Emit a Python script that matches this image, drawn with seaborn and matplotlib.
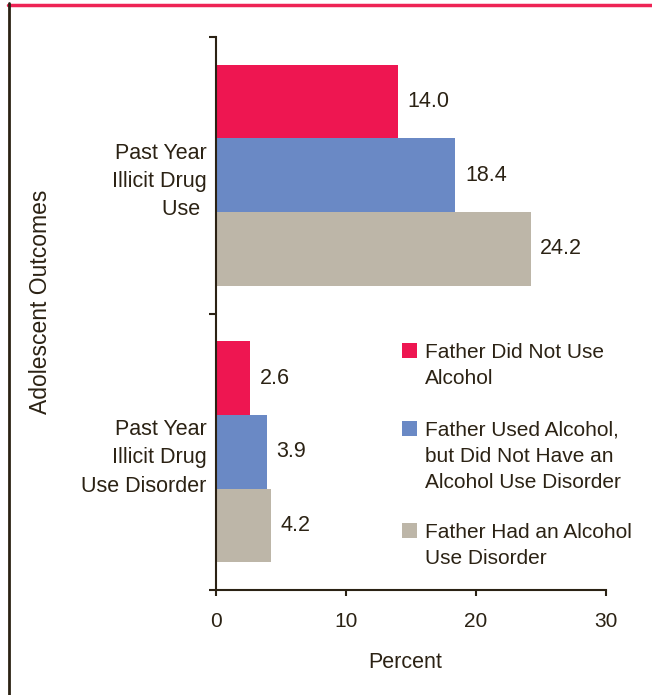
import pandas as pd
import seaborn as sns
from matplotlib import pyplot as plt
from matplotlib.lines import Line2D
from matplotlib.patches import Rectangle

# values
outcomes = ['Past Year\nIllicit Drug\nUse ', 'Past Year\nIllicit Drug\nUse Disorder']
fathers = ['Father Did Not Use\nAlcohol',
           'Father Used Alcohol,\nbut Did Not Have an\nAlcohol Use Disorder',
           'Father Had an Alcohol\nUse Disorder']
drug_use = [14.0, 18.4, 24.2]
drug_disorder = [2.6, 3.9, 4.2]
x_ticks = [0, 10, 20, 30]

colors = ['#EE1651', '#6A89C5', '#BDB6A8']
text_color = '#2B2214'

W, H = 652, 695

sns.set_style('white')
plt.rcParams['font.family'] = ['Liberation Sans', 'DejaVu Sans']
plt.rcParams['text.color'] = text_color
plt.rcParams['axes.labelcolor'] = text_color
plt.rcParams['xtick.color'] = text_color
plt.rcParams['ytick.color'] = text_color


def build_frame():
    rows = []
    for father, v1, v2 in zip(fathers, drug_use, drug_disorder):
        rows.append({'outcome': outcomes[0], 'father': father, 'percent': v1})
        rows.append({'outcome': outcomes[1], 'father': father, 'percent': v2})
    return pd.DataFrame(rows)


def fx(px):
    return px / W


def fy(py):
    return 1 - py / H


def outcome_barplot(data):
    fig = plt.figure(figsize=(W / 100, H / 100), dpi=100)
    ax = fig.add_axes([fx(216), fy(590), fx(606) - fx(216), fy(37) - fy(590)])

    sns.barplot(ax=ax, data=data, y='outcome', x='percent', hue='father',
                order=outcomes, hue_order=fathers, palette=colors,
                orient='h', saturation=1, width=0.8, linewidth=0, legend=False)

    # value labels
    for cont in ax.containers:
        ax.bar_label(cont, fmt='%.1f', padding=7, fontsize=15.5, color=text_color)

    ax.set_xlim(0, 30)
    ax.set_ylim(1.5, -0.5)
    ax.set_xticks(x_ticks)
    ax.set_xticklabels([str(t) for t in x_ticks], fontsize=15)
    ax.tick_params(axis='x', bottom=True, direction='out', length=4, width=1.5, pad=12)

    ax.set_yticks([0, 1])
    ax.set_yticklabels(outcomes, fontsize=15.5)
    for t in ax.get_yticklabels():
        t.set_linespacing(1.45)
    ax.set_yticks([-0.5, 0.5, 1.5], minor=True)
    ax.tick_params(axis='y', which='major', left=True, length=0, pad=7)
    ax.tick_params(axis='y', which='minor', left=True, direction='out', length=5, width=1.5)

    sns.despine(ax=ax)
    for side in ['left', 'bottom']:
        ax.spines[side].set_color(text_color)
        ax.spines[side].set_linewidth(1.5)

    ax.set_xlabel('Percent', fontsize=15.5)
    ax.xaxis.set_label_coords(0.485, -0.112)
    ax.set_ylabel('Adolescent Outcomes', fontsize=16.5)
    ax.yaxis.set_label_coords(-0.42, 0.521)

    # legend, square aligned with the first text line
    legend_tops = [343, 421, 523]
    for label, color, top in zip(fathers, colors, legend_tops):
        fig.add_artist(Rectangle((fx(402), fy(top + 15)), 15 / W, 15 / H,
                                 transform=fig.transFigure, facecolor=color,
                                 edgecolor='none'))
        fig.text(fx(425), fy(top), label, fontsize=15, va='top', ha='left',
                 linespacing=1.45, color=text_color)

    # page frame: red rule on top, dark rule on the left
    fig.add_artist(Line2D([fx(8), 1], [fy(5), fy(5)],
                          transform=fig.transFigure, color='#EE2455', linewidth=2.5))
    fig.add_artist(Line2D([fx(9), fx(9)], [0, fy(3)],
                          transform=fig.transFigure, color=text_color, linewidth=2))

    fig.savefig('out.png', dpi=100)


if __name__ == '__main__':
    data = build_frame()
    outcome_barplot(data)
